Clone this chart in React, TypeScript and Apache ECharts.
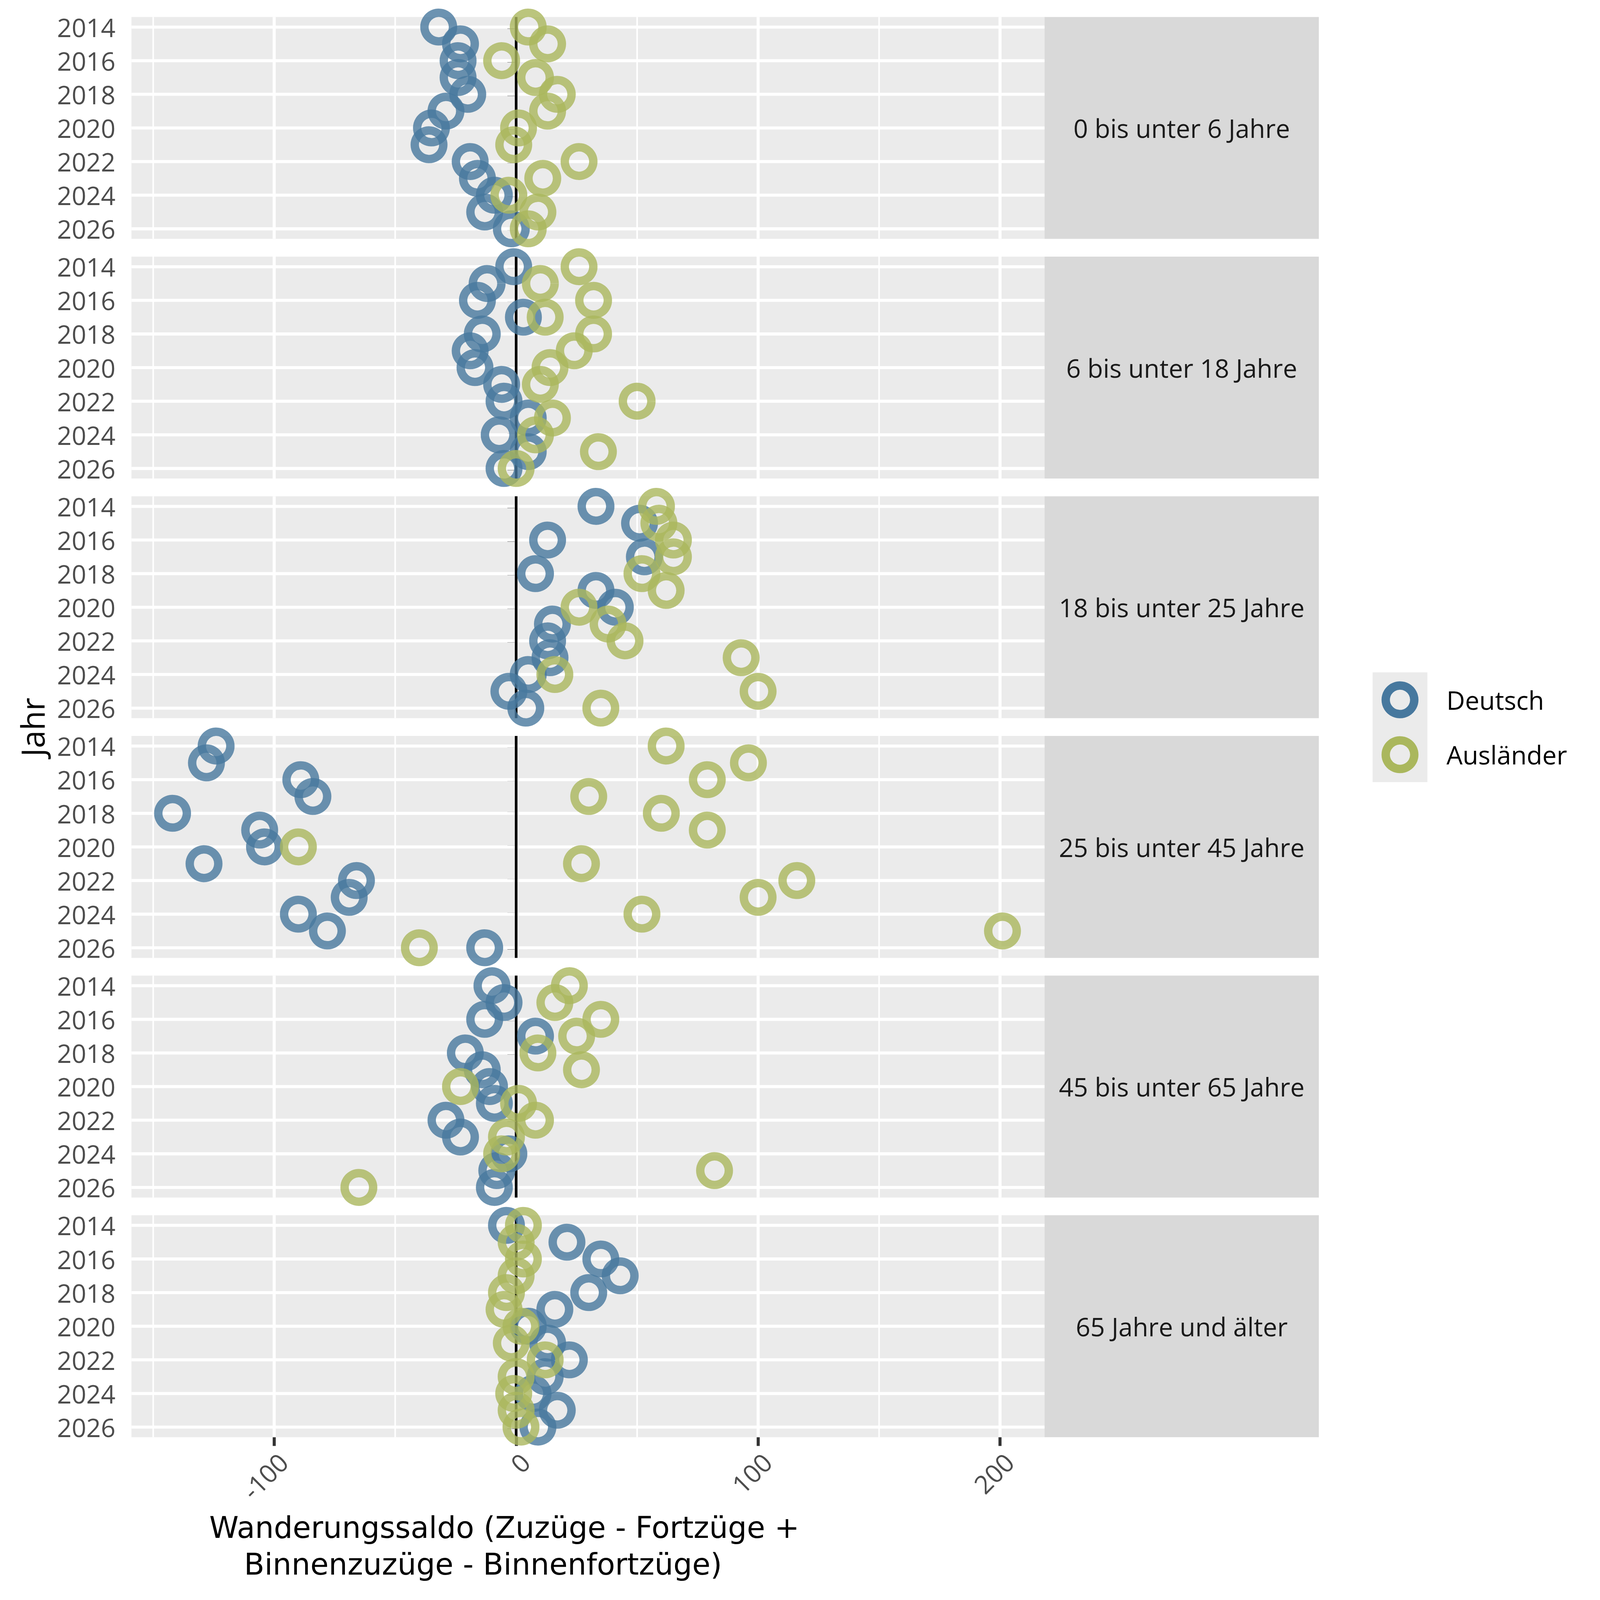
import React, { useEffect, useRef } from "react";
import * as echarts from "echarts";

// ---------- data ----------
const years = [2014, 2015, 2016, 2017, 2018, 2019, 2020, 2021, 2022, 2023, 2024, 2025, 2026];
const ageGroups = [
  "0 bis unter 6 Jahre",
  "6 bis unter 18 Jahre",
  "18 bis unter 25 Jahre",
  "25 bis unter 45 Jahre",
  "45 bis unter 65 Jahre",
  "65 Jahre und älter",
];
const seriesNames = ["Deutsch", "Ausländer"];

const deutsch_0_6 = [-32, -23, -24, -24, -20, -29, -35, -36, -19, -16, -9, -13, -2];
const auslaender_0_6 = [5, 13, -6, 8, 17, 13, 1, -1, 26, 11, -3, 9, 5];
const deutsch_6_18 = [-1, -12, -16, 3, -14, -19, -17, -6, -5, 5, -7, 5, -5];
const auslaender_6_18 = [26, 10, 32, 12, 32, 24, 14, 10, 50, 15, 8, 34, 0];
const deutsch_18_25 = [33, 51, 13, 53, 8, 33, 41, 15, 13, 14, 5, -3, 4];
const auslaender_18_25 = [58, 59, 65, 65, 52, 62, 26, 38, 45, 93, 16, 100, 35];
const deutsch_25_45 = [-124, -128, -89, -84, -142, -106, -104, -129, -66, -69, -90, -78, -13];
const auslaender_25_45 = [62, 96, 79, 30, 60, 79, -90, 27, 116, 100, 52, 201, -40];
const deutsch_45_65 = [-10, -5, -13, 8, -21, -14, -11, -9, -29, -23, -3, -8, -9];
const auslaender_45_65 = [22, 16, 35, 25, 9, 27, -23, 1, 8, -4, -6, 82, -65];
const deutsch_65 = [-4, 21, 35, 43, 30, 16, 5, 13, 22, 12, 7, 17, 9];
const auslaender_65 = [3, 0, 3, 0, -4, -5, 2, -2, 12, 0, -1, 0, 2];

const deutschByGroup = [deutsch_0_6, deutsch_6_18, deutsch_18_25, deutsch_25_45, deutsch_45_65, deutsch_65];
const auslaenderByGroup = [auslaender_0_6, auslaender_6_18, auslaender_18_25, auslaender_25_45, auslaender_45_65, auslaender_65];

const xTickValues = [-100, 0, 100, 200];
const xMinorValues = [-150, -50, 50, 150];
const yTickValues = [2014, 2016, 2018, 2020, 2022, 2024, 2026];

const X_MIN = -159;
const X_MAX = 218.4;
const Y_MIN = 2013.4;
const Y_MAX = 2026.6;

const xTitle1 = "Wanderungssaldo (Zuzüge - Fortzüge +";
const xTitle2 = "Binnenzuzüge - Binnenfortzüge)";
const yTitle = "Jahr";

// ---------- style ----------
const S = 4096 / 4200; // visible viewport scale
const p = (v: number) => v * S;
const FONT = "Open Sans";
const TITLE_FONT = "DejaVu Sans";
const BLUE = "#47789E";
const GREEN = "#AAB75D";
const PANEL_BG = "#EBEBEB";
const STRIP_BG = "#D9D9D9";
const PANEL_LEFT = p(345);
const PANEL_RIGHT = p(2742);
const STRIP_RIGHT = p(3462);
const PANEL_TOP0 = p(44.6);
const PANEL_H = p(582.5);
const PANEL_PITCH = p(629.1);
const FS_SMALL = p(67);
const FS_TITLE = p(84);
const FS_XTITLE = p(78);

function vLineData(vals: number[]) {
  const d: any[] = [];
  vals.forEach((v) => {
    d.push([v, Y_MIN]);
    d.push([v, Y_MAX]);
    d.push(["-", "-"]);
  });
  return d;
}
function hLineData(vals: number[]) {
  const d: any[] = [];
  vals.forEach((v) => {
    d.push([X_MIN, v]);
    d.push([X_MAX, v]);
    d.push(["-", "-"]);
  });
  return d;
}

function buildOption() {
  const grid: any[] = [];
  const xAxis: any[] = [];
  const yAxis: any[] = [];
  const series: any[] = [];
  const graphic: any[] = [];

  ageGroups.forEach((g, i) => {
    const top = PANEL_TOP0 + i * PANEL_PITCH;
    const isLast = i === ageGroups.length - 1;
    grid.push({
      left: PANEL_LEFT,
      top,
      width: PANEL_RIGHT - PANEL_LEFT,
      height: PANEL_H,
      show: true,
      backgroundColor: PANEL_BG,
      borderWidth: 0,
    });
    xAxis.push({
      type: "value",
      gridIndex: i,
      min: X_MIN,
      max: X_MAX,
      splitLine: { show: false },
      axisLine: { show: false },
      axisTick: {
        show: isLast,
        length: p(23),
        customValues: xTickValues,
        lineStyle: { color: "#333333", width: p(8) },
      },
      axisLabel: {
        show: isLast,
        customValues: xTickValues,
        rotate: 45,
        align: "right",
        verticalAlign: "top",
        margin: p(30),
        fontSize: FS_SMALL,
        fontFamily: FONT,
        color: "#4D4D4D",
      },
    });
    yAxis.push({
      type: "value",
      gridIndex: i,
      inverse: true,
      min: Y_MIN,
      max: Y_MAX,
      splitLine: { show: false },
      axisLine: { show: false },
      axisTick: {
        show: true,
        length: p(23),
        customValues: yTickValues,
        lineStyle: { color: "#333333", width: p(8) },
      },
      axisLabel: {
        show: true,
        customValues: yTickValues,
        margin: p(42),
        fontSize: FS_SMALL,
        fontFamily: FONT,
        color: "#4D4D4D",
        formatter: (v: number) => String(v),
      },
    });

    const lineBase = {
      type: "line",
      xAxisIndex: i,
      yAxisIndex: i,
      symbol: "none",
      showSymbol: false,
      silent: true,
      connectNulls: false,
      animation: false,
    };
    series.push({ ...lineBase, name: "gridMinor" + i, z: 1, data: vLineData(xMinorValues), lineStyle: { color: "#FFFFFF", width: p(4) } });
    series.push({ ...lineBase, name: "gridMajorV" + i, z: 1, data: vLineData(xTickValues), lineStyle: { color: "#FFFFFF", width: p(8) } });
    series.push({ ...lineBase, name: "gridMajorH" + i, z: 1, data: hLineData(yTickValues), lineStyle: { color: "#FFFFFF", width: p(8) } });
    series.push({ ...lineBase, name: "zero" + i, z: 2, data: vLineData([0]), lineStyle: { color: "#000000", width: p(7) } });

    const groups = [deutschByGroup[i], auslaenderByGroup[i]];
    const colors = [BLUE, GREEN];
    groups.forEach((vals, k) => {
      series.push({
        type: "scatter",
        name: seriesNames[k],
        xAxisIndex: i,
        yAxisIndex: i,
        z: 3,
        symbol: "circle",
        symbolSize: p(75),
        itemStyle: { color: "rgba(0,0,0,0)", borderColor: colors[k], borderWidth: p(22) },
        data: years.map((y, j) => [vals[j], y]),
        animation: false,
      });
    });

    // strip
    graphic.push({
      type: "rect",
      shape: { x: PANEL_RIGHT, y: top, width: STRIP_RIGHT - PANEL_RIGHT, height: PANEL_H },
      style: { fill: STRIP_BG },
      silent: true,
    });
    graphic.push({
      type: "text",
      x: (PANEL_RIGHT + STRIP_RIGHT) / 2,
      y: top + PANEL_H / 2,
      style: {
        text: g,
        fill: "#1A1A1A",
        fontSize: FS_SMALL,
        fontFamily: FONT,
        align: "center",
        verticalAlign: "middle",
      },
      silent: true,
    });
  });

  // legend (drawn)
  graphic.push({
    type: "rect",
    shape: { x: p(3603), y: p(1765), width: p(144), height: p(288) },
    style: { fill: PANEL_BG },
    silent: true,
  });
  const legendY = [p(1837), p(1981)];
  seriesNames.forEach((n, k) => {
    graphic.push({
      type: "circle",
      shape: { cx: p(3675), cy: legendY[k], r: p(37.5) },
      style: { fill: "none", stroke: k === 0 ? BLUE : GREEN, lineWidth: p(22) },
      silent: true,
    });
    graphic.push({
      type: "text",
      x: p(3797),
      y: legendY[k],
      style: { text: n, fill: "#000000", fontSize: FS_SMALL, fontFamily: FONT, align: "left", verticalAlign: "middle" },
      silent: true,
    });
  });

  // axis titles
  graphic.push({
    type: "text",
    x: p(1324),
    y: p(4010),
    style: { text: xTitle1, fill: "#000000", fontSize: FS_XTITLE, fontFamily: TITLE_FONT, align: "center", verticalAlign: "middle" },
    silent: true,
  });
  graphic.push({
    type: "text",
    x: p(1268),
    y: p(4106),
    style: { text: xTitle2, fill: "#000000", fontSize: FS_XTITLE, fontFamily: TITLE_FONT, align: "center", verticalAlign: "middle" },
    silent: true,
  });
  graphic.push({
    type: "text",
    x: p(84),
    y: p(1909),
    rotation: Math.PI / 2,
    style: { text: yTitle, fill: "#000000", fontSize: FS_TITLE, fontFamily: FONT, align: "center", verticalAlign: "middle" },
    silent: true,
  });

  return {
    animation: false,
    backgroundColor: "#FFFFFF",
    textStyle: { fontFamily: FONT },
    grid,
    xAxis,
    yAxis,
    series,
    graphic,
  };
}

export default function App() {
  const ref = useRef<HTMLDivElement>(null);
  useEffect(() => {
    document.body.style.margin = "0";
    document.body.style.overflow = "hidden";
    if (!ref.current) return;
    const chart = echarts.init(ref.current, undefined, { renderer: "svg" });
    chart.setOption(buildOption() as any);
    return () => chart.dispose();
  }, []);
  return <div ref={ref} style={{ width: Math.round(4200 * S), height: Math.round(4200 * S) }} />;
}
